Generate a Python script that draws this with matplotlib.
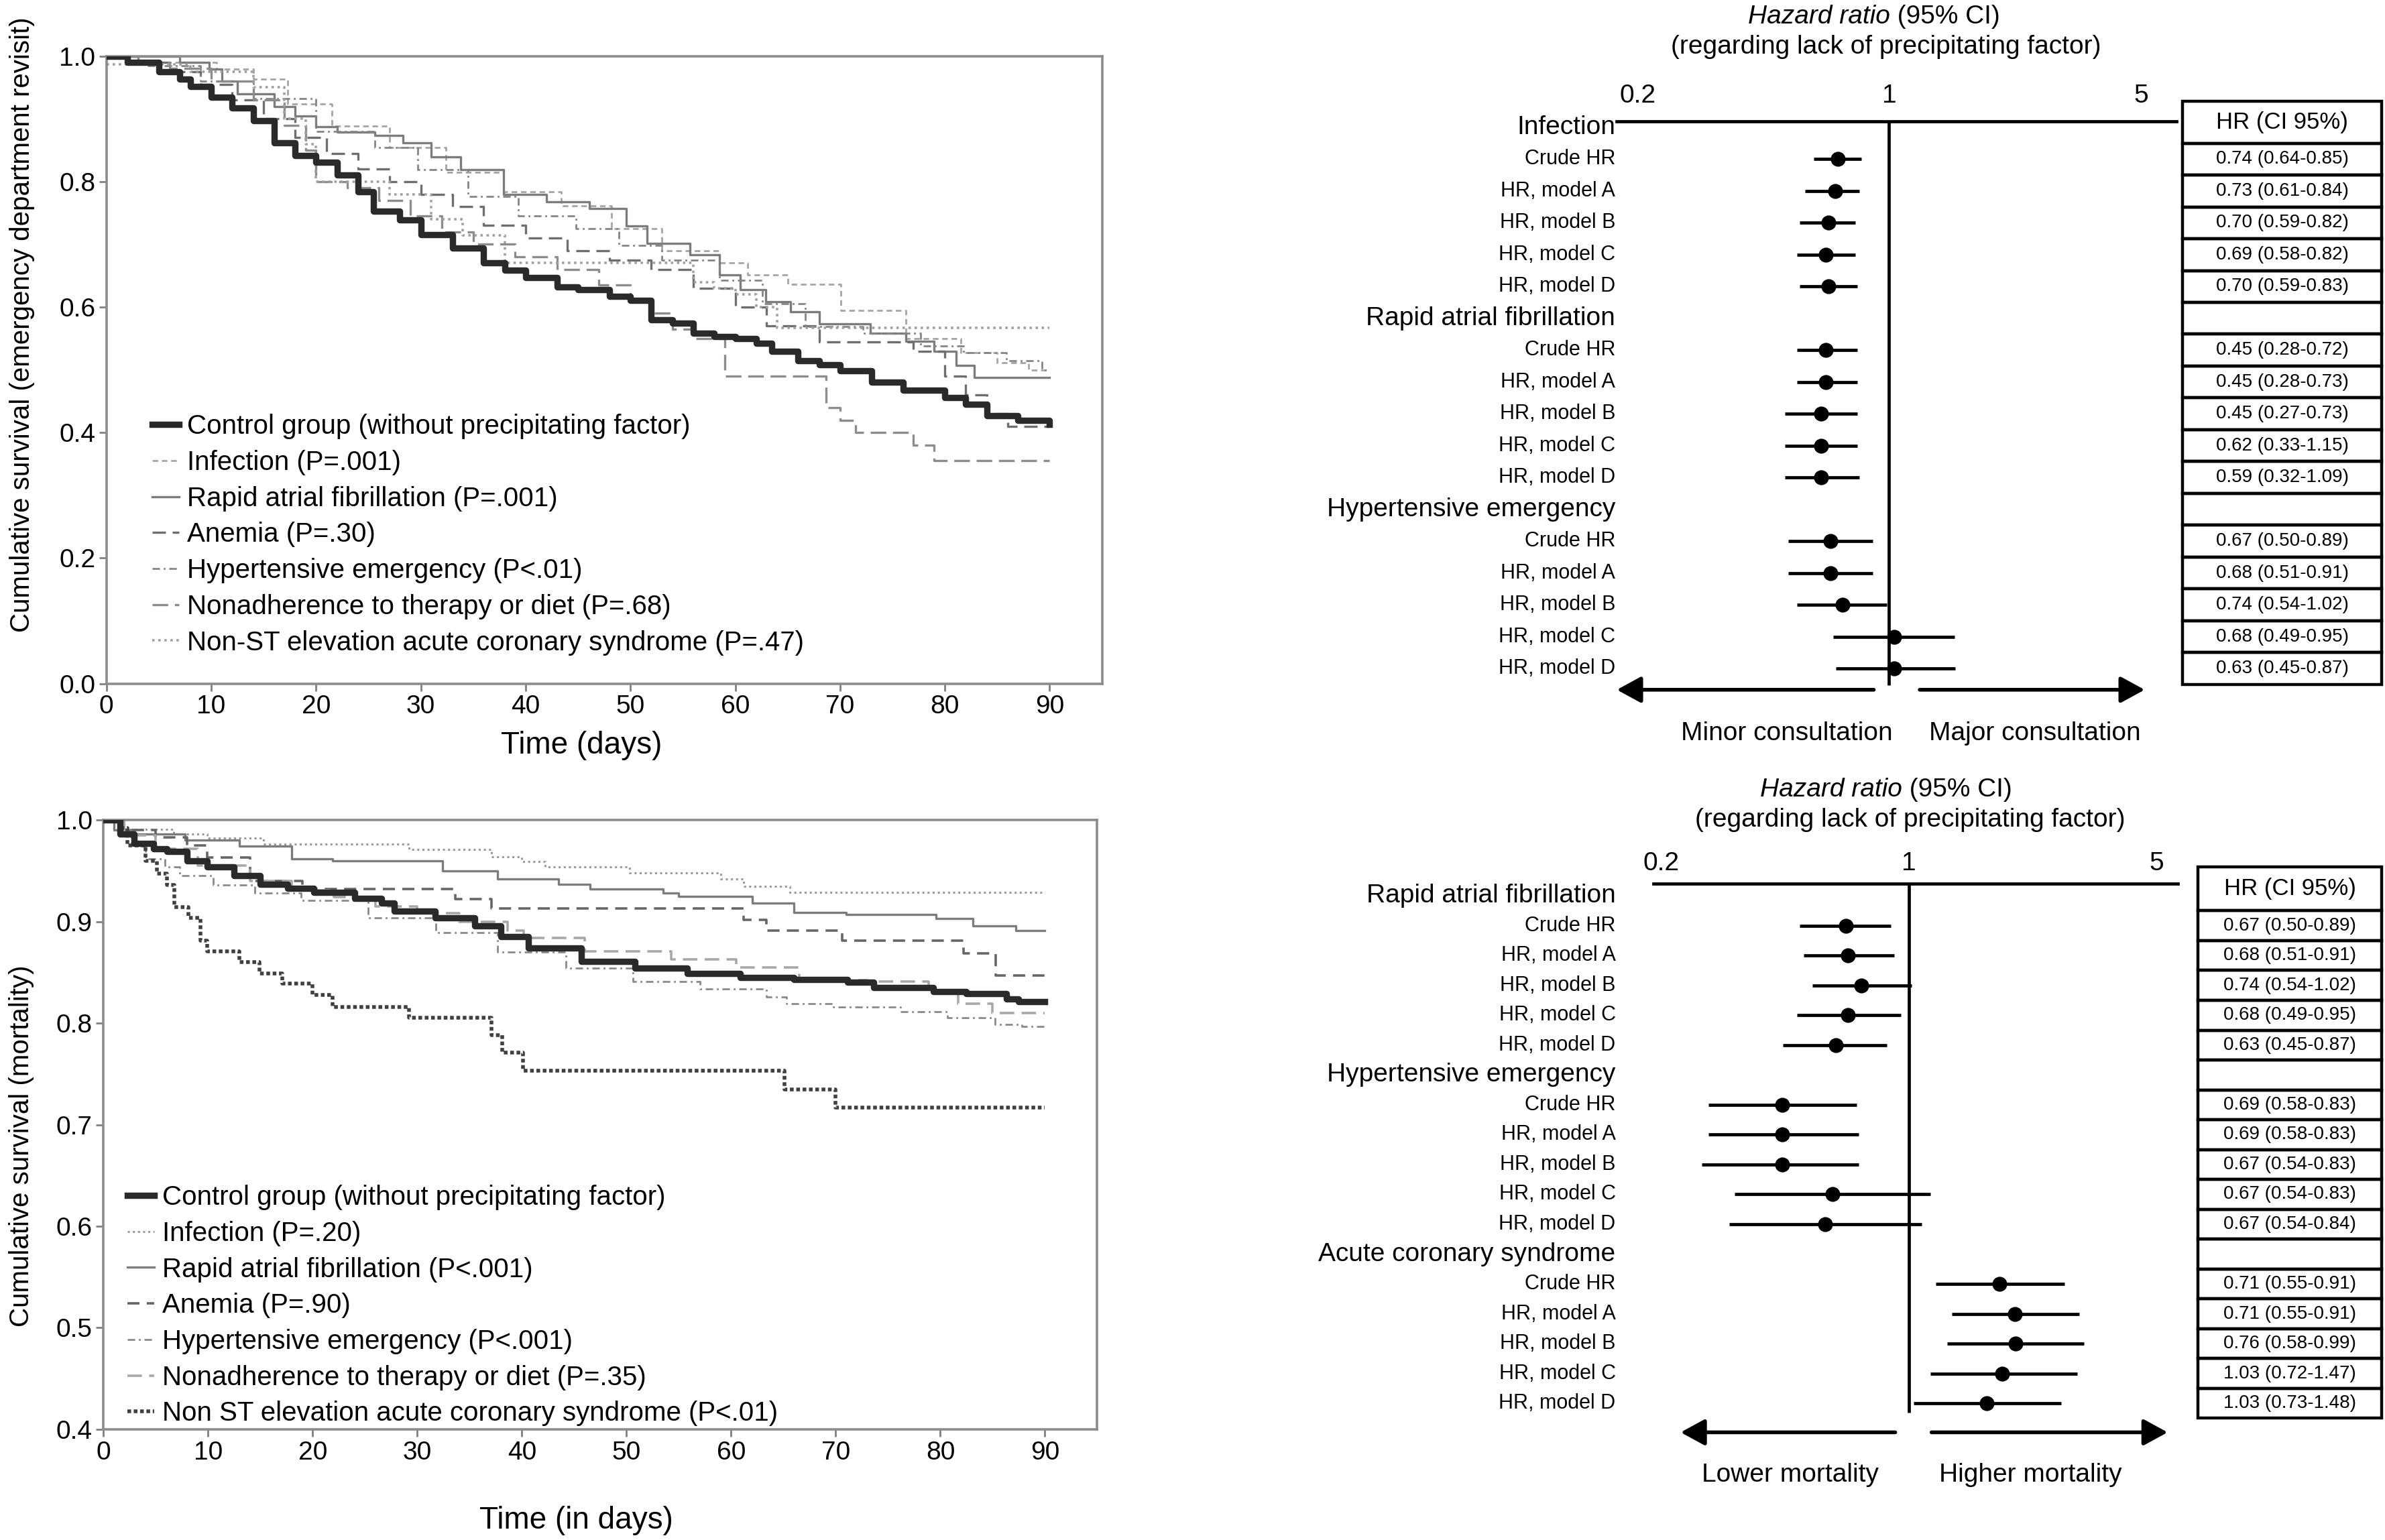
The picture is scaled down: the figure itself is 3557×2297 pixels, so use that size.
import numpy as np
import matplotlib
matplotlib.use('Agg')
import matplotlib.pyplot as plt
from matplotlib import transforms
from matplotlib.lines import Line2D
from matplotlib.patches import Rectangle
from matplotlib.ticker import NullLocator

plt.rcParams['font.family'] = ['Liberation Sans', 'DejaVu Sans']

# ---------------- Kaplan-Meier data: emergency department revisit ----------------
rev_labels = ['Control group (without precipitating factor)', 'Infection (P=.001)',
              'Rapid atrial fibrillation (P=.001)', 'Anemia (P=.30)',
              'Hypertensive emergency (P<.01)', 'Nonadherence to therapy or diet (P=.68)',
              'Non-ST elevation acute coronary syndrome (P=.47)']

rev_ctrl_t = [0, 2, 5, 7, 8, 10, 12, 14, 16, 18, 20, 22, 24, 25.5, 28, 30, 33, 36, 38, 40, 43, 45, 48,
              50, 52, 54, 56, 58, 60, 62, 63.5, 66, 68, 70, 73, 76, 80, 82, 84, 87, 90]
rev_ctrl_s = [1.0, 0.99, 0.975, 0.963, 0.952, 0.934, 0.917, 0.897, 0.862, 0.842, 0.831, 0.811, 0.784,
              0.753, 0.739, 0.715, 0.694, 0.671, 0.659, 0.647, 0.632, 0.628, 0.617, 0.611, 0.58, 0.574,
              0.558, 0.553, 0.55, 0.542, 0.53, 0.515, 0.508, 0.499, 0.48, 0.468, 0.456, 0.445, 0.427,
              0.419, 0.413]
rev_inf_t = [0, 5, 10.5, 14, 17.3, 21.5, 27, 32.4, 37.9, 43.4, 48.2, 53, 58.5, 61.2, 65, 70.1, 76.3,
             81.5, 85, 88, 90]
rev_inf_s = [1.0, 0.99, 0.979, 0.963, 0.924, 0.889, 0.854, 0.815, 0.784, 0.761, 0.725, 0.69, 0.671,
             0.651, 0.636, 0.595, 0.55, 0.527, 0.511, 0.5, 0.5]
rev_raf_t = [0, 7, 9.8, 11, 12.5, 16, 18, 20, 22, 25.6, 28.3, 31, 33.8, 37.9, 42, 46.1, 49.6, 51.6,
             55.7, 58.5, 60.5, 62.9, 65.3, 68, 72.9, 76.3, 79, 81.1, 82.8, 90]
rev_raf_s = [1.0, 0.99, 0.979, 0.96, 0.94, 0.92, 0.905, 0.887, 0.879, 0.874, 0.862, 0.839, 0.819, 0.78,
             0.768, 0.757, 0.729, 0.702, 0.683, 0.651, 0.628, 0.609, 0.593, 0.573, 0.558, 0.546, 0.53,
             0.507, 0.488, 0.488]
rev_ane_t = [0, 3, 6, 9, 12, 15, 18, 21, 24, 27, 30, 33, 36, 40, 44, 48, 52, 56, 60, 63, 68, 77, 80,
             82, 84, 86, 90]
rev_ane_s = [1.0, 0.99, 0.975, 0.955, 0.93, 0.9, 0.87, 0.845, 0.82, 0.80, 0.78, 0.76, 0.73, 0.71, 0.69,
             0.675, 0.66, 0.63, 0.6, 0.57, 0.545, 0.53, 0.49, 0.46, 0.43, 0.41, 0.41]
rev_hyp_t = [0, 4, 9, 14, 20, 25.6, 29.7, 34.5, 39.3, 44.8, 48.9, 53, 58.5, 62.6, 66.7, 72.2, 77.7,
             81.8, 85.9, 89.3, 90]
rev_hyp_s = [1.0, 0.985, 0.96, 0.932, 0.88, 0.854, 0.819, 0.776, 0.745, 0.725, 0.698, 0.675, 0.643,
             0.605, 0.569, 0.558, 0.538, 0.527, 0.515, 0.5, 0.5]
rev_non_t = [0, 3, 6, 10, 14, 17, 19, 20, 23, 26, 29, 32, 35, 39, 43, 47, 50, 52, 54, 56, 59, 68.7,
             70, 71.5, 77, 79, 90]
rev_non_s = [1.0, 0.99, 0.98, 0.96, 0.93, 0.89, 0.85, 0.80, 0.79, 0.77, 0.745, 0.72, 0.70, 0.68, 0.66,
             0.635, 0.61, 0.59, 0.565, 0.55, 0.49, 0.44, 0.42, 0.40, 0.38, 0.355, 0.355]
rev_nst_t = [0, 8, 14, 17, 19, 20, 27, 31, 34, 38, 56, 58, 60, 62, 64, 90]
rev_nst_s = [0.987, 0.975, 0.95, 0.90, 0.86, 0.80, 0.78, 0.74, 0.714, 0.671, 0.64, 0.63, 0.62, 0.60,
             0.567, 0.567]

# ---------------- Kaplan-Meier data: mortality ----------------
mort_labels = ['Control group (without precipitating factor)', 'Infection (P=.20)',
               'Rapid atrial fibrillation (P<.001)', 'Anemia (P=.90)',
               'Hypertensive emergency (P<.001)', 'Nonadherence to therapy or diet (P=.35)',
               'Non ST elevation acute coronary syndrome (P<.01)']

mort_ctrl_t = [0, 1.6, 2.9, 4.8, 6.1, 8, 9.9, 12.5, 15, 17.6, 20.1, 24, 26.6, 27.8, 31.7, 35.5, 38,
               40.6, 45.7, 50.8, 55.8, 60.9, 66, 71.1, 73.6, 79.3, 82.5, 86.3, 87.5, 90]
mort_ctrl_s = [1.0, 0.986, 0.977, 0.972, 0.969, 0.96, 0.954, 0.945, 0.937, 0.933, 0.929, 0.923, 0.918,
               0.91, 0.904, 0.896, 0.885, 0.874, 0.861, 0.854, 0.849, 0.845, 0.843, 0.84, 0.835, 0.831,
               0.829, 0.824, 0.821, 0.821]
mort_inf_t = [0, 1.6, 6.7, 9.9, 15.3, 29.2, 37.1, 40, 42.2, 50.3, 59, 61.2, 65.6, 90]
mort_inf_s = [1.0, 0.991, 0.986, 0.982, 0.976, 0.971, 0.964, 0.959, 0.954, 0.948, 0.942, 0.935, 0.929,
              0.929]
mort_raf_t = [0, 1, 2.9, 7.8, 13, 18, 21.9, 32.4, 37.7, 43.5, 46.5, 53.5, 55, 62, 66, 71, 79.6, 83.1,
              87.2, 90]
mort_raf_s = [1.0, 0.99, 0.986, 0.98, 0.974, 0.962, 0.96, 0.95, 0.942, 0.937, 0.932, 0.928, 0.925, 0.918,
              0.909, 0.907, 0.903, 0.896, 0.891, 0.891]
mort_ane_t = [0, 2, 5, 8, 9.9, 14, 19, 33.6, 37.1, 61.2, 63.4, 70.6, 82.2, 85.3, 90]
mort_ane_s = [1.0, 0.99, 0.983, 0.975, 0.963, 0.94, 0.932, 0.922, 0.913, 0.902, 0.891, 0.881, 0.869,
              0.847, 0.847]
mort_hyp_t = [0, 1.4, 2.7, 4, 5.9, 7.3, 10.5, 14.5, 18.9, 25.3, 31.8, 37.7, 44.2, 50.6, 57, 63.4, 65.3,
              69.8, 76.2, 80.7, 85.2, 87.8, 90]
mort_hyp_s = [1.0, 0.986, 0.975, 0.962, 0.954, 0.945, 0.936, 0.928, 0.921, 0.904, 0.889, 0.87, 0.854,
              0.841, 0.834, 0.826, 0.819, 0.816, 0.811, 0.805, 0.799, 0.797, 0.797]
mort_non_t = [0, 2, 5, 9, 14, 18, 22, 26, 30, 34, 38.6, 40.2, 46, 54.3, 60.5, 66.5, 73, 78.9, 81.7, 85,
              90]
mort_non_s = [1.0, 0.985, 0.972, 0.955, 0.94, 0.931, 0.924, 0.915, 0.908, 0.90, 0.891, 0.884, 0.871,
              0.863, 0.855, 0.842, 0.841, 0.83, 0.819, 0.81, 0.81]
mort_nst_t = [0, 1.6, 2.3, 4, 5.1, 6.1, 6.8, 8.1, 9.3, 9.9, 13, 14.9, 17.1, 20, 21.9, 29.2, 37.1, 38.1,
              40.1, 65.1, 70, 90]
mort_nst_s = [1.0, 0.992, 0.975, 0.96, 0.947, 0.936, 0.914, 0.904, 0.881, 0.871, 0.86, 0.849, 0.839,
              0.828, 0.816, 0.805, 0.788, 0.771, 0.753, 0.735, 0.717, 0.717]

# ---------------- forest plot data (read from the drawn points) ----------------
sub_labels = ['Crude HR', 'HR, model A', 'HR, model B', 'HR, model C', 'HR, model D']

rev_groups = ['Infection', 'Rapid atrial fibrillation', 'Hypertensive emergency']
rev_hr = [[0.72, 0.708, 0.678, 0.668, 0.678],
          [0.668, 0.668, 0.646, 0.646, 0.646],
          [0.687, 0.687, 0.741, 1.031, 1.031]]
rev_lo = [[0.617, 0.585, 0.565, 0.555, 0.565],
          [0.555, 0.555, 0.514, 0.514, 0.514],
          [0.524, 0.524, 0.555, 0.70, 0.711]]
rev_hi = [[0.836, 0.828, 0.806, 0.806, 0.815],
          [0.815, 0.815, 0.815, 0.815, 0.828],
          [0.902, 0.902, 0.987, 1.518, 1.524]]
rev_table = [['0.74 (0.64-0.85)', '0.73 (0.61-0.84)', '0.70 (0.59-0.82)', '0.69 (0.58-0.82)', '0.70 (0.59-0.83)'],
             ['0.45 (0.28-0.72)', '0.45 (0.28-0.73)', '0.45 (0.27-0.73)', '0.62 (0.33-1.15)', '0.59 (0.32-1.09)'],
             ['0.67 (0.50-0.89)', '0.68 (0.51-0.91)', '0.74 (0.54-1.02)', '0.68 (0.49-0.95)', '0.63 (0.45-0.87)']]

mort_groups = ['Rapid atrial fibrillation', 'Hypertensive emergency', 'Acute coronary syndrome']
mort_hr = [[0.664, 0.673, 0.733, 0.673, 0.622],
           [0.439, 0.439, 0.439, 0.609, 0.580],
           [1.80, 1.99, 2.00, 1.83, 1.66]]
mort_lo = [[0.493, 0.504, 0.534, 0.484, 0.442],
           [0.272, 0.272, 0.261, 0.323, 0.311],
           [1.19, 1.32, 1.28, 1.15, 1.03]]
mort_hi = [[0.888, 0.907, 1.019, 0.948, 0.866],
           [0.712, 0.722, 0.722, 1.149, 1.087],
           [2.75, 3.02, 3.12, 2.98, 2.69]]
mort_table = [['0.67 (0.50-0.89)', '0.68 (0.51-0.91)', '0.74 (0.54-1.02)', '0.68 (0.49-0.95)', '0.63 (0.45-0.87)'],
              ['0.69 (0.58-0.83)', '0.69 (0.58-0.83)', '0.67 (0.54-0.83)', '0.67 (0.54-0.83)', '0.67 (0.54-0.84)'],
              ['0.71 (0.55-0.91)', '0.71 (0.55-0.91)', '0.76 (0.58-0.99)', '1.03 (0.72-1.47)', '1.03 (0.73-1.48)']]

hr_ticks = [0.2, 1, 5]
hr_ticklabels = ['0.2', '1', '5']

# ---------------- figure ----------------
fig = plt.figure(figsize=(3557 / 200, 2297 / 200), dpi=200)
W, H = 1568.0, 1016.0


def rect(x0, y0, x1, y1):
    return [x0 / W, 1 - y1 / H, (x1 - x0) / W, (y1 - y0) / H]


# line styles: control, infection, raf, anemia, hypertensive, nonadherence, nste
rev_styles = [dict(color='#2a2a2a', lw=3.4, ls='-', zorder=4),
              dict(color='#a5a5a5', lw=1.0, ls=(0, (3, 2))),
              dict(color='#7c7c7c', lw=1.2, ls='-'),
              dict(color='#6e6e6e', lw=1.2, ls=(0, (6, 3))),
              dict(color='#858585', lw=1.0, ls=(0, (4, 2, 1, 2))),
              dict(color='#8c8c8c', lw=1.2, ls=(0, (7, 3))),
              dict(color='#a0a0a0', lw=1.3, ls=(0, (1, 1.5)))]
mort_styles = [dict(color='#2a2a2a', lw=3.4, ls='-', zorder=4),
               dict(color='#9a9a9a', lw=1.1, ls=(0, (1, 1.5))),
               dict(color='#7c7c7c', lw=1.2, ls='-'),
               dict(color='#666666', lw=1.3, ls=(0, (5, 3))),
               dict(color='#8a8a8a', lw=1.0, ls=(0, (4, 2, 1, 2))),
               dict(color='#a8a8a8', lw=1.3, ls=(0, (6, 3))),
               dict(color='#404040', lw=2.0, ls=(0, (1, 0.7)))]


def km_panel(ax, curves, styles, labels, yticks, ylim, ylabel, xlabel, leg_anchor, ylab_pos, xlab_pos):
    for (t, s), st in zip(curves, styles):
        ax.step(t, s, where='post', color=st['color'], lw=st['lw'], ls=st['ls'],
                zorder=st.get('zorder', 2))
    handles = [Line2D([0], [0], color=st['color'], lw=st['lw'], ls=st['ls']) for st in styles]
    ax.legend(handles, labels, loc='lower left', bbox_to_anchor=leg_anchor, frameon=False,
              fontsize=14.5, handlelength=1.0, handletextpad=0.3, labelspacing=0.39,
              borderaxespad=0, borderpad=0)
    ax.set_xlim(0, 95)
    ax.set_ylim(*ylim)
    ax.set_xticks(range(0, 91, 10))
    ax.set_yticks(yticks)
    ax.set_yticklabels(['%.1f' % v for v in yticks])
    ax.tick_params(labelsize=14, length=4, width=1, color='0.5', pad=2)
    for sp in ax.spines.values():
        sp.set_color('0.55')
        sp.set_linewidth(1.3)
    ax.set_ylabel(ylabel, fontsize=14.5)
    ax.yaxis.set_label_coords(*ylab_pos)
    ax.set_xlabel(xlabel, fontsize=16.5)
    ax.xaxis.set_label_coords(*xlab_pos)


ax1 = fig.add_axes(rect(70, 37, 724.5, 451))
km_panel(ax1,
         [(rev_ctrl_t, rev_ctrl_s), (rev_inf_t, rev_inf_s), (rev_raf_t, rev_raf_s),
          (rev_ane_t, rev_ane_s), (rev_hyp_t, rev_hyp_s), (rev_non_t, rev_non_s),
          (rev_nst_t, rev_nst_s)],
         rev_styles, rev_labels, [0, 0.2, 0.4, 0.6, 0.8, 1.0], (0, 1),
         'Cumulative survival (emergency department revisit)', 'Time (days)',
         (0.046, 0.045), (-0.072, 0.572), (0.477, -0.075))

ax2 = fig.add_axes(rect(68, 541, 721.4, 943))
km_panel(ax2,
         [(mort_ctrl_t, mort_ctrl_s), (mort_inf_t, mort_inf_s), (mort_raf_t, mort_raf_s),
          (mort_ane_t, mort_ane_s), (mort_hyp_t, mort_hyp_s), (mort_non_t, mort_non_s),
          (mort_nst_t, mort_nst_s)],
         mort_styles, mort_labels, [0.4, 0.5, 0.6, 0.7, 0.8, 0.9, 1.0], (0.4, 1.0),
         'Cumulative survival (mortality)', 'Time (in days)',
         (0.024, 0.005), (-0.070, 0.465), (0.476, -0.125))


def forest(ax, tax, groups, hr, lo, hi, table, xlim, ylim, label_x, head_top,
           arrow_y, arrows, arrow_labels, label_y, tick_pad, vline_end):
    trans = transforms.blended_transform_factory(ax.transAxes, ax.transData)
    rows, pts, los, his = [], [], [], []
    for g in range(3):
        base = 6 * g
        ax.text(label_x, base, groups[g], transform=trans, ha='right', va='center', fontsize=14)
        for k in range(5):
            i = base + 1 + k
            ax.text(label_x, i, sub_labels[k], transform=trans, ha='right', va='center', fontsize=11)
            rows.append(i)
            pts.append(hr[g][k])
            los.append(lo[g][k])
            his.append(hi[g][k])
    pts = np.array(pts)
    ax.errorbar(pts, rows, xerr=[pts - np.array(los), np.array(his) - pts], fmt='o', color='k',
                ms=7, elinewidth=1.7, capsize=0, zorder=3)
    ax.vlines(1, ylim[1], vline_end, color='k', lw=1.7)
    ax.set_xscale('log')
    ax.set_xlim(*xlim)
    ax.set_ylim(*ylim)
    ax.xaxis.tick_top()
    ax.set_xticks(hr_ticks)
    ax.set_xticklabels(hr_ticklabels)
    ax.xaxis.set_minor_locator(NullLocator())
    ax.tick_params(axis='x', length=0, labelsize=14, pad=tick_pad)
    ax.set_yticks([])
    for side in ['left', 'right', 'bottom']:
        ax.spines[side].set_visible(False)
    ax.spines['top'].set_linewidth(1.7)
    for (x0, x1) in arrows:
        ax.annotate('', xy=(x1, arrow_y), xytext=(x0, arrow_y), xycoords=trans, textcoords=trans,
                    arrowprops=dict(arrowstyle='-|>,head_length=0.55,head_width=0.3', color='k',
                                    lw=2.0, shrinkA=0, shrinkB=0, mutation_scale=20))
    for (xc, txt) in arrow_labels:
        ax.text(xc, label_y, txt, transform=trans, ha='center', va='center', fontsize=14)

    # table of hazard ratios
    tax.set_xlim(0, 1)
    tax.set_ylim(*ylim)
    tax.axis('off')
    tax.add_patch(Rectangle((0, head_top), 1, 0.5 - head_top, fill=False, lw=1.6, ec='k', clip_on=False))
    tax.text(0.5, (head_top + 0.5) / 2, 'HR (CI 95%)', ha='center', va='center', fontsize=12.5)
    for g in range(3):
        base = 6 * g
        if g > 0:
            tax.add_patch(Rectangle((0, base - 0.5), 1, 1, fill=False, lw=1.6, ec='k', clip_on=False))
        for k in range(5):
            i = base + 1 + k
            tax.add_patch(Rectangle((0, i - 0.5), 1, 1, fill=False, lw=1.6, ec='k', clip_on=False))
            tax.text(0.5, i, table[g][k], ha='center', va='center', fontsize=10)


# top forest (emergency department revisit)
axf1 = fig.add_axes(rect(1063, 80, 1431, 500))
axt1 = fig.add_axes(rect(1435, 80, 1566, 500))
forest(axf1, axt1, rev_groups, rev_hr, rev_lo, rev_hi, rev_table,
       (0.1753, 6.287), (19.81, -0.19), -0.003, -0.81, 17.67,
       [(0.459, 0.0), (0.541, 0.943)],
       [(0.304, 'Minor consultation'), (0.747, 'Major consultation')], 19.05, 7, 17.52)

# bottom forest (mortality)
axf2 = fig.add_axes(rect(1087, 583, 1432, 995))
axt2 = fig.add_axes(rect(1445, 583, 1566, 995))
forest(axf2, axt2, mort_groups, mort_hr, mort_lo, mort_hi, mort_table,
       (0.1904, 5.74), (20.51, -0.406), -0.072, -0.96, 17.97,
       [(0.461, 0.052), (0.530, 0.980)],
       [(0.261, 'Lower mortality'), (0.719, 'Higher mortality')], 19.39, 4.5, 17.31)


def hr_title(xc1, y1, xc2, y2):
    # italic part ends a little right of the line centre
    fig.text((xc1 + 10.5) / W, 1 - y1 / H, 'Hazard ratio', style='italic', ha='right',
             va='center', fontsize=14)
    fig.text((xc1 + 10.5) / W, 1 - y1 / H, ' (95% CI)', ha='left', va='center', fontsize=14)
    fig.text(xc2 / W, 1 - y2 / H, '(regarding lack of precipitating factor)', ha='center',
             va='center', fontsize=14)


hr_title(1232, 11, 1240, 31)
hr_title(1240, 521, 1256, 541)

fig.savefig('out.png', dpi=200)
